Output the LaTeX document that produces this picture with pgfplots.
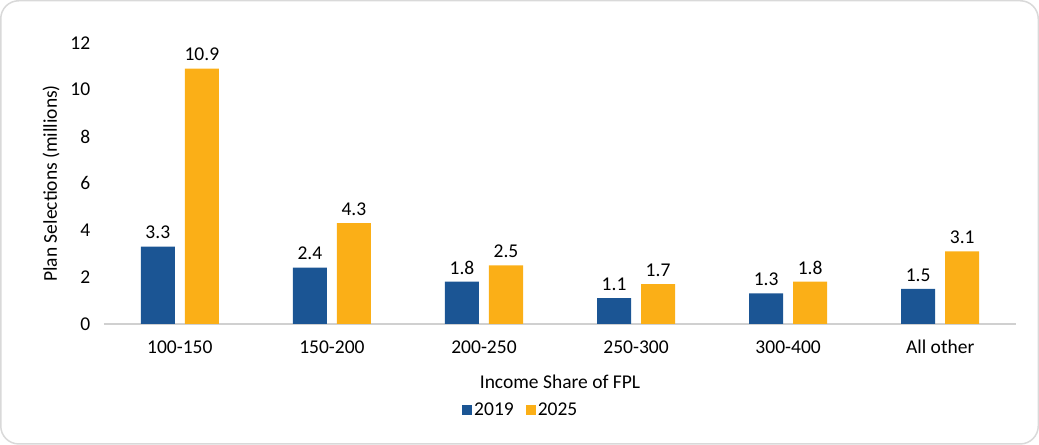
\documentclass[border=0pt]{standalone}
\usepackage{pgfplots}
\pgfplotsset{compat=1.18}
\usepackage{fontspec}
\setmainfont{Carlito}
\definecolor{cblue}{HTML}{1B5594}
\definecolor{corange}{HTML}{FBAF17}
\definecolor{cborder}{HTML}{D9D9D9}
\definecolor{caxis}{HTML}{D0D0D0}
\newcommand{\f}{\fontsize{19.5}{23}\selectfont}
\begin{document}
\begin{tikzpicture}[x=1pt,y=1pt]
\draw[cborder, line width=1.5pt, rounded corners=18pt] (1,1) rectangle (1038,444);
\begin{axis}[
  at={(104pt,121pt)}, anchor=south west,
  scale only axis, width=912pt, height=281pt,
  ybar, bar width=34pt,
  ymin=0, ymax=12, ytick={0,2,...,12},
  xmin=-0.5, xmax=5.5,
  xtick=data,
  xticklabels={100-150,150-200,200-250,250-300,300-400,All other},
  /pgf/number format/assume math mode=true,
  axis x line*=bottom, axis y line*=left,
  x axis line style={caxis, line width=1.2pt, -},
  y axis line style={draw=none},
  major tick length=0pt,
  tick label style={font=\f},
  yticklabel style={xshift=-10pt},
  xticklabel style={yshift=-13pt},
  ylabel={Plan Selections (millions)},
  xlabel={Income Share of FPL},
  label style={font=\f},
  ylabel style={yshift=4pt},
  xlabel style={yshift=-14pt},
  nodes near coords,
  nodes near coords style={font=\f, yshift=4pt, /pgf/number format/fixed, /pgf/number format/precision=1, /pgf/number format/fixed zerofill},
  legend style={at={(0.457,-0.306)}, anchor=center, draw=none, legend columns=2, font=\f,
    /tikz/every even column/.append style={column sep=10pt}},
  legend image code/.code={\fill[#1] (-4pt,-5pt) rectangle (6pt,5pt);},
]
\addplot[draw=none, fill=cblue, bar shift=-22pt] coordinates {(0,3.3) (1,2.4) (2,1.8) (3,1.1) (4,1.3) (5,1.5)};
\addplot[draw=none, fill=corange, bar shift=22pt] coordinates {(0,10.9) (1,4.3) (2,2.5) (3,1.7) (4,1.8) (5,3.1)};
\legend{2019,2025}
\end{axis}
\end{tikzpicture}
\end{document}
